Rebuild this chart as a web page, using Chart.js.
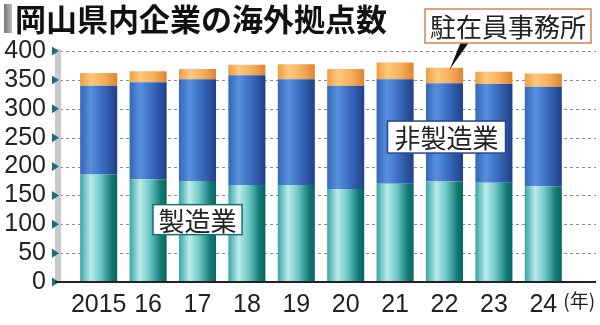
<!DOCTYPE html>
<html>
<head>
<meta charset="utf-8">
<script src="https://cdn.jsdelivr.net/npm/chart.js@4/dist/chart.umd.min.js"></script>
<style>
  html, body { margin: 0; padding: 0; background: #fff; }
</style>
</head>
<body>
<canvas id="chart" width="600" height="325"></canvas>
<script>
// 岡山県内企業の海外拠点数（年別）
const years = ['2015', '16', '17', '18', '19', '20', '21', '22', '23', '24'];
const manufacturing = [186, 178, 175, 168, 168, 161, 170, 174, 172, 166];
const nonManufacturing = [154, 168, 176, 190, 183, 179, 181, 170, 171, 172];
const offices = [22, 19, 18, 18, 26, 29, 29, 27, 21, 23];
const yTicks = [0, 50, 100, 150, 200, 250, 300, 350, 400];

const jp = '"Noto Sans CJK JP", "Noto Sans", sans-serif';

// 棒ごとの横グラデーション
function barGradient(stops) {
  return function (ctx) {
    const chart = ctx.chart;
    const xs = chart.scales.x;
    if (!xs || !chart.chartArea) return stops[0][1];
    const cx = xs.getPixelForValue(ctx.dataIndex);
    const w = xs.width / years.length * 0.75;
    const g = chart.ctx.createLinearGradient(cx - w / 2, 0, cx + w / 2, 0);
    stops.forEach(s => g.addColorStop(s[0], s[1]));
    return g;
  };
}

// 背景：点線グリッド・軸・三角マーク
const gridPlugin = {
  id: 'grid',
  beforeDatasetsDraw(chart) {
    const c = chart.ctx;
    const ys = chart.scales.y;
    const top = ys.getPixelForValue(400);
    const bottom = ys.getPixelForValue(0);
    c.save();
    c.strokeStyle = '#8c8c8c';
    c.lineWidth = 1;
    c.setLineDash([3, 3]);
    yTicks.forEach(v => {
      if (v === 0) return;
      const y = Math.round(ys.getPixelForValue(v)) + 0.5;
      c.beginPath();
      c.moveTo(60, y);
      c.lineTo(596, y);
      c.stroke();
    });
    c.setLineDash([]);
    c.fillStyle = '#c9c9c9';
    c.fillRect(55, top - 2, 6, bottom - top + 2);
    c.fillStyle = '#16707a';
    yTicks.forEach(v => {
      const y = ys.getPixelForValue(v);
      c.beginPath();
      c.moveTo(52, y - 4.5);
      c.lineTo(52, y + 4.5);
      c.lineTo(59, y);
      c.closePath();
      c.fill();
    });
    c.restore();
  },
  afterDatasetsDraw(chart) {
    const c = chart.ctx;
    const xs = chart.scales.x;
    const ys = chart.scales.y;
    const bottom = ys.getPixelForValue(0);
    c.save();
    // 基線
    c.strokeStyle = '#222';
    c.lineWidth = 2;
    c.beginPath();
    c.moveTo(55, bottom);
    c.lineTo(596, bottom);
    c.stroke();

    // タイトル
    const tg = c.createLinearGradient(4, 0, 12, 0);
    tg.addColorStop(0, '#777');
    tg.addColorStop(1, '#bbb');
    c.fillStyle = tg;
    c.fillRect(4, 4, 8, 29);
    c.fillStyle = '#111';
    c.font = 'bold 31px ' + jp;
    c.textBaseline = 'middle';
    c.textAlign = 'left';
    c.fillText('岡山県内企業の海外拠点数', 15, 19);

    // ラベル枠
    function labelBox(text, cx, cy, w, h, border, size) {
      c.fillStyle = '#fff';
      c.fillRect(cx - w / 2, cy - h / 2, w, h);
      c.strokeStyle = border;
      c.lineWidth = 1.5;
      c.strokeRect(cx - w / 2, cy - h / 2, w, h);
      c.fillStyle = '#222';
      c.font = size + 'px ' + jp;
      c.textAlign = 'center';
      c.textBaseline = 'middle';
      c.fillText(text, cx, cy + 1);
    }
    labelBox('製造業', xs.getPixelForValue(2), ys.getPixelForValue(108), 89, 30, '#1d6e6e', 26);
    labelBox('非製造業', xs.getPixelForValue(7) + 2, ys.getPixelForValue(251), 118, 32, '#23468f', 26);

    // 駐在員事務所と引き出し線
    const bx = xs.getPixelForValue(7);
    c.fillStyle = '#111';
    c.beginPath();
    c.moveTo(bx + 16, 43);
    c.lineTo(bx + 24, 43);
    c.lineTo(bx + 5, ys.getPixelForValue(offices[7] + manufacturing[7] + nonManufacturing[7]) + 2);
    c.closePath();
    c.fill();
    labelBox('駐在員事務所', 508, 26, 166, 34, '#d9824a', 26);

    // (年)
    c.fillStyle = '#222';
    c.font = '19px ' + jp;
    c.textAlign = 'left';
    c.textBaseline = 'middle';
    c.fillText('(年)', xs.getPixelForValue(years.length - 1) + 20, bottom + 19);
    c.restore();
  }
};

new Chart(document.getElementById('chart'), {
  type: 'bar',
  data: {
    labels: years,
    datasets: [
      {
        label: '製造業',
        data: manufacturing,
        backgroundColor: barGradient([[0, '#35a5a5'], [0.28, '#bdebeb'], [0.55, '#6cc7c6'], [0.85, '#117874'], [1, '#0a6662']])
      },
      {
        label: '非製造業',
        data: nonManufacturing,
        backgroundColor: barGradient([[0, '#3466ba'], [0.28, '#5790dc'], [0.6, '#3a6cc0'], [1, '#213f88']])
      },
      {
        label: '駐在員事務所',
        data: offices,
        backgroundColor: barGradient([[0, '#ee9d42'], [0.3, '#fcc97e'], [0.65, '#f5ae5a'], [1, '#e08530']])
      }
    ]
  },
  options: {
    responsive: false,
    animation: false,
    devicePixelRatio: 1,
    layout: { padding: { top: 51, right: 32, left: 0, bottom: 0 } },
    datasets: { bar: { categoryPercentage: 1, barPercentage: 0.75, borderWidth: 0 } },
    plugins: {
      legend: { display: false },
      tooltip: { enabled: false }
    },
    scales: {
      x: {
        stacked: true,
        grid: { display: false },
        border: { display: false },
        afterFit(scale) { scale.height = 32; },
        ticks: {
          color: '#222',
          padding: 0,
          autoSkip: false,
          maxRotation: 0,
          font: { family: '"Liberation Sans", sans-serif', size: 25 }
        }
      },
      y: {
        stacked: true,
        min: 0,
        max: 400,
        afterBuildTicks(scale) { scale.ticks = yTicks.map(v => ({ value: v })); },
        afterFit(scale) { scale.width = 74; },
        grid: { display: false, drawTicks: false },
        border: { display: false },
        ticks: {
          color: '#222',
          padding: 28,
          font: { family: '"Liberation Sans", sans-serif', size: 25 }
        }
      }
    }
  },
  plugins: [gridPlugin]
});
</script>
</body>
</html>
